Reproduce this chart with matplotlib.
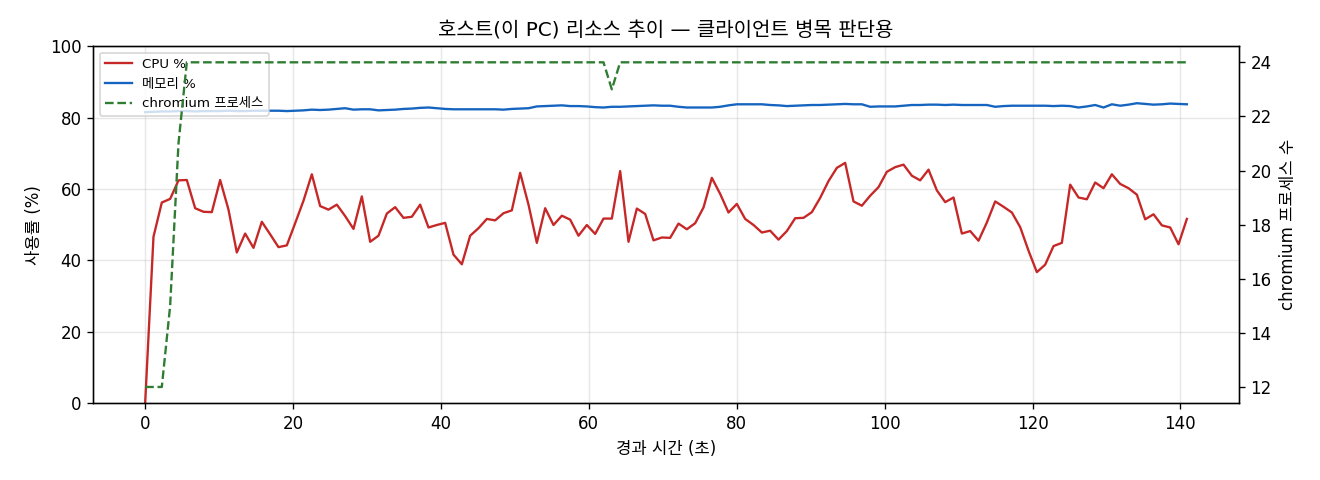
import matplotlib
matplotlib.use("Agg")
import matplotlib.pyplot as plt
import numpy as np

plt.rcParams['font.family'] = ['DejaVu Sans', 'Noto Sans CJK KR']

sample_interval = 1.127  # seconds between samples

cpu = [0.0,
       46.6, 56.2, 57.2, 62.4, 62.5, 54.6, 53.6, 53.5, 62.5, 54.2, 42.2, 47.5, 43.5, 50.8, 47.3, 43.7,
       44.2, 50.4, 56.7, 64.1, 55.2, 54.2, 55.6, 52.4, 48.8, 57.9, 45.2, 46.9, 53.1, 54.9, 51.9, 52.2,
       55.6, 49.2, 49.9, 50.5, 41.6, 38.9, 46.9, 49.0, 51.6, 51.2, 53.2, 54.0, 64.5, 55.6, 44.9, 54.6,
       49.9, 52.5, 51.4, 46.9, 49.9, 47.4, 51.7, 51.7, 65.0, 45.2, 54.5, 53.0, 45.6, 46.4, 46.3,
       50.3, 48.7, 50.4, 54.8, 63.1, 58.6, 53.4, 55.8, 51.6, 49.9, 47.8, 48.3, 45.8, 48.2, 51.8, 51.9,
       53.5, 57.5, 62.2, 65.9, 67.3, 56.5, 55.3, 58.1, 60.5, 64.8, 66.1, 66.8, 63.7, 62.4, 65.4,
       59.6, 56.3, 57.6, 47.5, 48.2, 45.5, 50.6, 56.5, 55.0, 53.4, 49.3, 42.7, 36.7, 38.8, 44.0, 44.9,
       61.2, 57.6, 57.1, 61.8, 60.2, 64.1, 61.4, 60.2, 58.4, 51.5, 52.9, 49.8, 49.2, 44.5, 51.6]

mem = [81.5, 81.6, 81.7, 81.7, 81.8, 81.8, 81.7, 81.8, 81.8, 81.8,
       81.9, 81.8, 81.8, 81.9, 81.9, 81.9, 81.9, 81.8, 81.9, 82.0,
       82.2, 82.1, 82.2, 82.4, 82.6, 82.2, 82.3, 82.3, 82.0, 82.1,
       82.2, 82.4, 82.5, 82.7, 82.8, 82.6, 82.4, 82.3, 82.3, 82.3,
       82.3, 82.3, 82.3, 82.2, 82.4, 82.5, 82.6, 83.1, 83.2, 83.3,
       83.4, 83.2, 83.2, 83.1, 82.9, 82.8, 83.0, 83.0, 83.1, 83.2,
       83.3, 83.4, 83.3, 83.3, 83.0, 82.8, 82.8, 82.8, 82.8, 83.0,
       83.4, 83.7, 83.7, 83.7, 83.7, 83.5, 83.4, 83.2, 83.3, 83.4,
       83.5, 83.5, 83.6, 83.7, 83.8, 83.7, 83.7, 83.0, 83.1, 83.1,
       83.1, 83.3, 83.5, 83.5, 83.6, 83.6, 83.5, 83.6, 83.5, 83.5,
       83.5, 83.5, 83.0, 83.2, 83.3, 83.3, 83.3, 83.3, 83.3, 83.2,
       83.3, 83.2, 82.8, 83.1, 83.5, 82.8, 83.7, 83.3, 83.6, 84.0,
       83.8, 83.6, 83.7, 83.9, 83.8, 83.7]

chromium = [12, 12, 12, 15, 21] + [24] * 51 + [23] + [24] * 69

t = np.arange(len(cpu)) * sample_interval

fig = plt.figure(figsize=(11, 4), dpi=120)
ax = fig.add_subplot(111)
fig.subplots_adjust(left=0.0705, right=0.9386, top=0.904, bottom=0.160)

l1, = ax.plot(t, cpu, color='#c62828', lw=1.4, label='CPU %')
l2, = ax.plot(t, mem, color='#1565c0', lw=1.4, label='메모리 %')
ax.set_ylim(0, 100)
ax.set_xlabel('경과 시간 (초)', fontsize=10)
ax.set_ylabel('사용률 (%)', fontsize=10)
ax.grid(True, alpha=0.3)
ax.tick_params(labelsize=10)

ax2 = ax.twinx()
l3, = ax2.plot(t, chromium, color='#2e7d32', lw=1.4, ls='--', label='chromium 프로세스')
ax2.set_ylabel('chromium 프로세스 수', fontsize=10)
ax2.tick_params(labelsize=10)

ax.legend(handles=[l1, l2, l3], loc='upper left', fontsize=8)
ax.set_title('호스트(이 PC) 리소스 추이 — 클라이언트 병목 판단용', fontsize=12)

fig.savefig('out.png', dpi=120)
